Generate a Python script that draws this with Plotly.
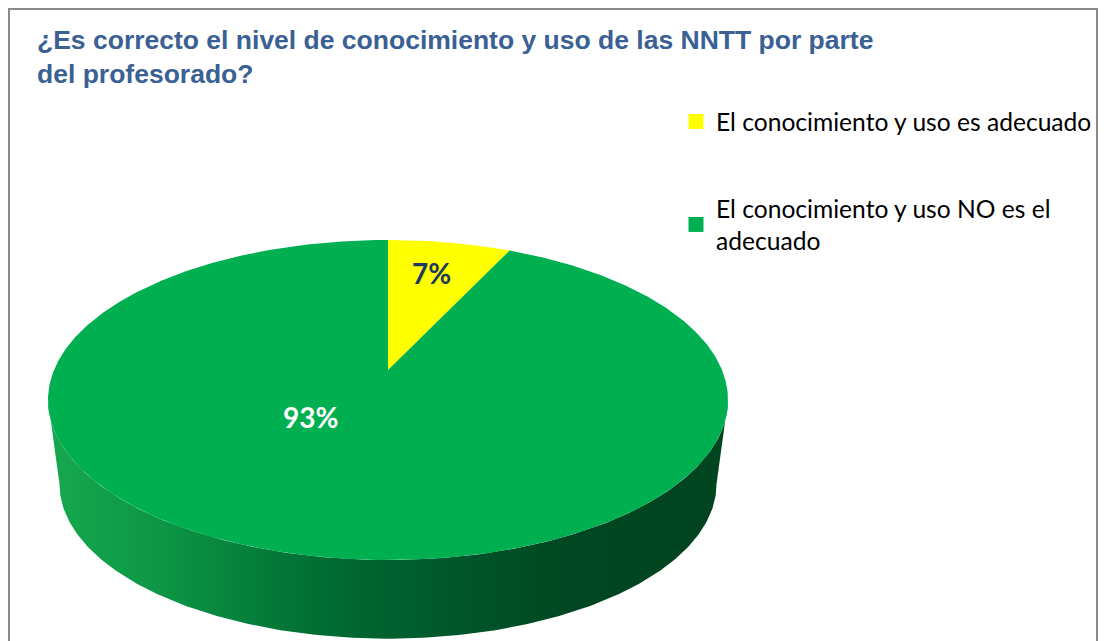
import numpy as np
import plotly.graph_objects as go

# ---- data ----
labels = ["El conocimiento y uso es adecuado",
          "El conocimiento y uso NO es el<br>adecuado"]
values = [7, 93]
pct_text = ["7%", "93%"]
colors = ["#FFFF00", "#00B050"]
title_text = ("¿Es correcto el nivel de conocimiento y uso de las NNTT por parte"
              "<br>del profesorado?")

# ---- canvas (page has an 8px body margin; axes map to page pixels) ----
W, H = 1107, 641
OFF = 8
FW, FH = W - OFF, H - OFF


def px(xp):
    return (xp - OFF) / FW


def py(yp):
    return 1 - (yp - OFF) / FH


# ---- perspective tilted disk geometry (page pixels) ----
CX, Y0, B, A, K = 388.0, 370.0, 334.0, 154.4, 0.1875
BB, AB, Y0B = 322.7, 149.2, 455.0


def proj(theta_deg, r=1.0, bottom=False):
    t = np.radians(theta_deg)
    u, v = r * np.sin(t), r * np.cos(t)
    d = 1 + K * v
    if bottom:
        return CX + BB * u / d, Y0B - AB * v / d
    return CX + B * u / d, Y0 - A * v / d


fig = go.Figure()

# side wall (front half, visible)
ts = np.degrees(np.arccos(-K))
th = np.linspace(ts, 360 - ts, 240)
xt, yt = proj(th)
xb, yb = proj(th[::-1], bottom=True)
fig.add_trace(go.Scatter(
    x=np.concatenate([xt, xb]), y=np.concatenate([yt, yb]),
    mode="lines", line=dict(width=0), fill="toself",
    fillgradient=dict(type="horizontal",
                      colorscale=[[0, "#17a94f"], [0.18, "#0b9444"],
                                  [0.4, "#006d33"], [0.6, "#00562a"],
                                  [0.78, "#004621"], [1, "#004420"]],
                      start=48, stop=728),
    hoverinfo="skip", showlegend=False))

# top face slices
total = sum(values)
start = 0.0
for lab, val, col in zip(labels, values, colors):
    span = 360.0 * val / total
    th = np.linspace(start, start + span, max(int(span * 2), 8))
    x, y = proj(th)
    fig.add_trace(go.Scatter(
        x=np.concatenate([[CX], x, [CX]]), y=np.concatenate([[Y0], y, [Y0]]),
        mode="lines", line=dict(width=0), fill="toself", fillcolor=col,
        hoverinfo="skip", showlegend=False))
    start += span

# legend entries
for i, (lab, col) in enumerate(zip(labels, colors)):
    fig.add_trace(go.Scatter(
        x=[None], y=[None], mode="markers", name=lab,
        marker=dict(symbol="square", size=15, color=col),
        legendgroup=f"g{i}"))

# percentage labels
label_pos = [(431, 273), (310, 417)]
label_col = ["#1F3864", "#FFFFFF"]
for txt, (lx, ly), lc in zip(pct_text, label_pos, label_col):
    fig.add_annotation(x=lx, y=ly, text=f"<b>{txt}</b>", showarrow=False,
                       font=dict(family="Lato", size=28, color=lc),
                       xanchor="center", yanchor="middle")

# title
fig.add_annotation(x=35, y=57, text=f"<b>{title_text}</b>", showarrow=False,
                   xanchor="left", yanchor="middle", align="left",
                   font=dict(family="Liberation Sans", size=26.5, color="#3A6094"))

fig.add_shape(type="rect", xref="x", yref="y", x0=9, y0=9, x1=1097, y1=646,
              line=dict(color="#8a8a8a", width=2), layer="below")

fig.update_layout(
    width=FW, height=FH, autosize=False,
    margin=dict(l=0, r=0, t=0, b=0),
    paper_bgcolor="white", plot_bgcolor="white",
    xaxis=dict(range=[OFF, W], visible=False, fixedrange=True),
    yaxis=dict(range=[H, OFF], visible=False, fixedrange=True),
    legend=dict(x=px(676), y=py(99), xanchor="left", yanchor="top",
                font=dict(family="Lato", size=24.6, color="#000000"),
                traceorder="grouped", tracegroupgap=52,
                bgcolor="rgba(0,0,0,0)", itemclick=False, itemdoubleclick=False),
    showlegend=True,
)

fig.write_html("out.html")
